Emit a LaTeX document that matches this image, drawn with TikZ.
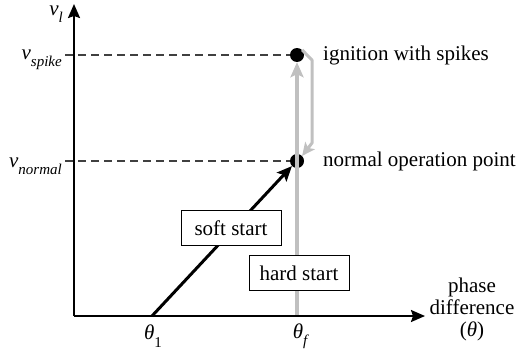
\documentclass[tikz,border=0pt]{standalone}
\usepackage{fontspec}
\setmainfont{Liberation Serif}
\usepackage{tikz}
\usetikzlibrary{arrows.meta}

\definecolor{pathgray}{RGB}{192,192,192}
\newcommand{\lowsub}[1]{\raisebox{-0.35em}{\fontsize{15}{15}\selectfont\itshape #1}}

\tikzset{
    axis/.style={line width=2pt, -{Stealth[length=14pt,width=12pt,inset=2pt]}},
    level/.style={dashed, dash pattern=on 8pt off 5pt, line width=1.2pt, black!75},
    opdot/.style={circle, fill=black, inner sep=0pt, minimum size=14pt},
    startbox/.style={draw, fill=white, line width=1pt, minimum width=100pt, minimum height=35pt, inner sep=0pt},
    hardpath/.style={pathgray, line width=4pt, -{Stealth[length=15pt,width=13pt,inset=3pt]}},
    backpath/.style={pathgray, line width=3pt, line join=round, -{Stealth[length=13pt,width=12pt,inset=3pt]}},
    softpath/.style={line width=3pt, -{Stealth[length=15pt,width=13pt,inset=3pt]}}
}

\begin{document}
\begin{tikzpicture}[x=1pt,y=-1pt,font=\fontsize{21}{22}\selectfont]
        \useasboundingbox (0,0) rectangle (526,353);

        % Оси
        \coordinate (origin) at (74,316);
        \coordinate (xend) at (425,316);
        \coordinate (yend) at (74,4);
        \coordinate (theta1) at (152,316);
        \coordinate (thetaf) at (297,316);

        % Рабочие точки
        \node[opdot] (spike) at (297,55) {};
        \node[opdot] (normal) at (297,161) {};

        % Уровни
        \draw[level] (65,55) -- (spike.west);
        \draw[level] (65,161) -- (normal.west);

        % Жёсткий пуск
        \draw[hardpath] (thetaf) -- (spike.south);
        \draw[backpath] (spike.north east) -- (312,60) -- (312,143) -- (normal.north east);

        % Мягкий пуск
        \draw[softpath] (theta1) -- (normal.south west);

        \draw[axis] (origin) -- (xend);
        \draw[axis] (origin) -- (yend);

        \node[startbox] (soft) at (231,228) {soft start};
        \node[startbox] (hard) at (299,273) {hard start};

        % Подписи
        \node[anchor=east, inner sep=0pt] (vl) at (63,14) {\textit{v}\lowsub{l}};
        \node[anchor=east, inner sep=0pt] (vspike) at (62,60) {\textit{v}\lowsub{spike}};
        \node[anchor=east, inner sep=0pt] (vnormal) at (62,166) {\textit{v}\lowsub{normal}};
        \node[inner sep=0pt] (th1) at (153,336) {\textit{θ}\lowsub{\upshape 1}};
        \node[inner sep=0pt] (thf) at (300,336) {\textit{θ}\lowsub{f}};
        \node[anchor=west, inner sep=0pt] (ignition) at (323,55) {ignition with spikes};
        \node[anchor=west, inner sep=0pt] (operation) at (323,161) {normal operation point};
        \node[align=center, inner sep=0pt] (phase) at (472,309) {phase\\difference\\(\textit{θ})};
\end{tikzpicture}
\end{document}
